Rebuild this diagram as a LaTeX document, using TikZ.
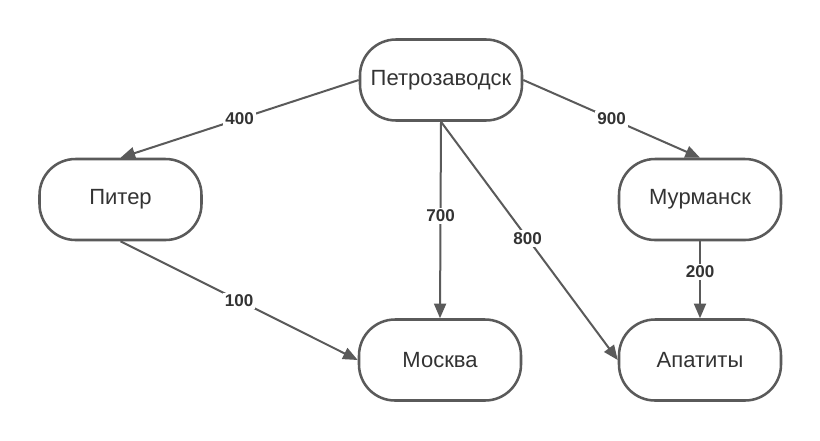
\documentclass[tikz,border=0pt]{standalone}
\usepackage{fontspec}
\setmainfont{Liberation Sans}
\usetikzlibrary{arrows.meta}
\definecolor{linegray}{HTML}{5A5A5A}
\definecolor{textgray}{HTML}{333333}
\begin{document}
\begin{tikzpicture}[x=0.75pt,y=-0.75pt,
  city/.style={draw=linegray, line width=1.9pt, rounded corners=27pt, fill=white,
    minimum width=121.5pt, minimum height=60.75pt, inner sep=0pt,
    text=textgray, font=\fontsize{16.5pt}{19pt}\selectfont},
  road/.style={draw=linegray, line width=1.5pt, -{Triangle[length=11pt,width=9pt]}},
  dist/.style={fill=white, inner sep=1.5pt, text=textgray,
    font=\fontsize{12.8pt}{15pt}\selectfont\bfseries}]
\useasboundingbox[fill=white] (0,0) rectangle (820,440);
\node[city] (ptz) at (441,80) {Петрозаводск};
\node[city] (spb) at (120.5,199.5) {Питер};
\node[city] (mur) at (700,199.5) {Мурманск};
\node[city] (msk) at (440,360) {Москва};
\node[city] (apa) at (700,360) {Апатиты};
\draw[road] (ptz.west) -- node[dist] {400} (spb.north);
\draw[road] (ptz.east) -- node[dist] {900} (mur.north);
\draw[road] (ptz.south) -- node[dist, pos=0.48] {700} (msk.north);
\draw[road] (ptz.south) -- node[dist, pos=0.49] {800} (apa.west);
\draw[road] (mur.south) -- node[dist, pos=0.4] {200} (apa.north);
\draw[road] (spb.south) -- node[dist] {100} (msk.west);
\end{tikzpicture}
\end{document}
